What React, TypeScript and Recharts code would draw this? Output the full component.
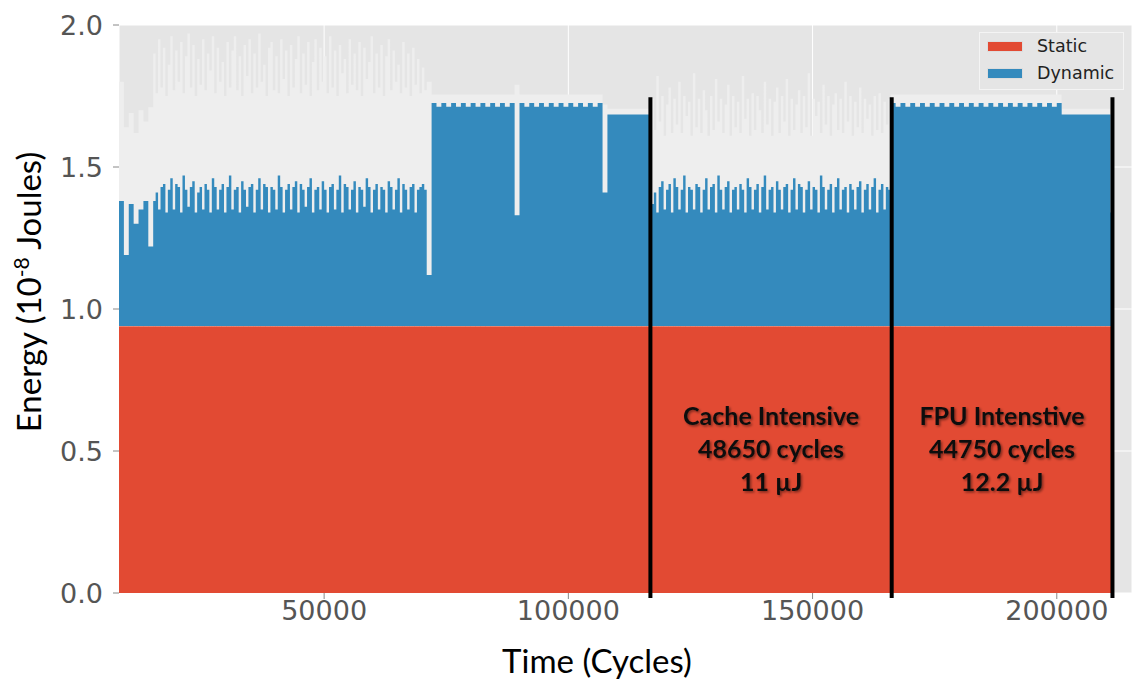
import React from 'react';
import { ComposedChart, Area, XAxis, YAxis, CartesianGrid, ReferenceLine, ReferenceArea, Legend } from 'recharts';

// energy per sample, in 10^-8 J
const STATIC_ENERGY = 0.94;
const RUN_END = 211500;

const xTicks = [50000, 100000, 150000, 200000];
const yTicks = [0, 0.5, 1.0, 1.5, 2.0];
const phaseBounds = [116800, 166200, 211400];

const phases = [
    { name: 'Cache Intensive', cycles: '48650 cycles', energy: '11 µJ' },
    { name: 'FPU Intenstive', cycles: '44750 cycles', energy: '12.2 µJ' },
];

// total (static + dynamic) per sample
const warmupTotal = [1.38, 1.19, 1.37, 1.30, 1.35, 1.38, 1.22];
const phaseATotal = [
    1.38, 1.41, 1.35, 1.43, 1.44, 1.34, 1.42, 1.46, 1.35, 1.44, 1.43, 1.34,
    1.47, 1.42, 1.36, 1.43, 1.45, 1.34, 1.41, 1.43, 1.35, 1.44, 1.42, 1.34,
    1.46, 1.43, 1.35, 1.42, 1.44, 1.34, 1.43, 1.47, 1.35, 1.42, 1.43, 1.34,
    1.45, 1.42, 1.36, 1.43, 1.44, 1.34, 1.42, 1.46, 1.35, 1.44, 1.43, 1.34,
    1.43, 1.42, 1.35, 1.47, 1.43, 1.34, 1.42, 1.44, 1.35, 1.43, 1.45, 1.34,
    1.44, 1.42, 1.36, 1.43, 1.46, 1.34, 1.42, 1.43, 1.35, 1.45, 1.42, 1.34,
    1.43, 1.44, 1.35, 1.42, 1.47, 1.34, 1.44, 1.43, 1.35, 1.42, 1.45, 1.34,
    1.43, 1.42, 1.36, 1.46, 1.43, 1.34, 1.42, 1.44, 1.35, 1.43, 1.42, 1.34,
    1.45, 1.43, 1.35, 1.42, 1.46, 1.34, 1.44, 1.42, 1.35, 1.43, 1.44, 1.34,
    1.42, 1.43, 1.44, 1.42,
];
const dipATotal = [1.12];
const plateauBTotal = [
    1.725, 1.712, 1.725, 1.712, 1.725, 1.712, 1.725, 1.712, 1.725, 1.712, 1.725, 1.712,
    1.725, 1.712, 1.725, 1.712, 1.725, 1.33, 1.725, 1.712, 1.725, 1.712, 1.725, 1.712,
    1.725, 1.712, 1.725, 1.712, 1.725, 1.712, 1.725, 1.712, 1.725, 1.712, 1.725,
];
const dipBTotal = [1.41];
const plateauCTotal = [1.685, 1.685, 1.685, 1.685, 1.685, 1.685, 1.685, 1.685, 1.685];
const cacheTotal = [
    1.37, 1.41, 1.34, 1.43, 1.45, 1.35, 1.42, 1.44, 1.34, 1.46, 1.43, 1.35,
    1.42, 1.47, 1.34, 1.43, 1.42, 1.35, 1.44, 1.43, 1.34, 1.42, 1.46, 1.35,
    1.43, 1.44, 1.34, 1.47, 1.42, 1.35, 1.43, 1.45, 1.34, 1.42, 1.43, 1.35,
    1.44, 1.42, 1.34, 1.46, 1.43, 1.35, 1.42, 1.44, 1.34, 1.43, 1.47, 1.35,
    1.42, 1.43, 1.34, 1.45, 1.42, 1.35, 1.43, 1.44, 1.34, 1.42, 1.46, 1.35,
    1.44, 1.43, 1.34, 1.42, 1.45, 1.35, 1.43, 1.42, 1.34, 1.47, 1.43, 1.35,
    1.42, 1.44, 1.34, 1.43, 1.46, 1.35, 1.42, 1.43, 1.34, 1.44, 1.42, 1.35,
    1.43, 1.45, 1.34, 1.42, 1.44, 1.35, 1.43, 1.46,
    1.34, 1.42, 1.44, 1.35, 1.43, 1.42,
];
const fpuTotal = [
    1.725, 1.712, 1.725, 1.712, 1.725, 1.712, 1.725, 1.712, 1.725, 1.712, 1.725, 1.712,
    1.725, 1.712, 1.725, 1.712, 1.725, 1.712, 1.725, 1.712, 1.725, 1.712, 1.725, 1.712,
    1.725, 1.712, 1.725, 1.712, 1.725, 1.712, 1.725, 1.712, 1.725, 1.712, 1.725,
];
const fpuTailTotal = [1.685, 1.685, 1.685, 1.685, 1.685, 1.685, 1.685, 1.685, 1.685, 1.685];
const endTotal = [1.34];

// light envelope behind the bars (sample peaks)
const warmupPeak = [1.80, 1.64, 1.69, 1.62, 1.70, 1.66, 1.71];
const phaseAPeak = [
    1.90, 1.76, 1.95, 1.78, 1.92, 1.75, 1.86, 1.96, 1.77, 1.91, 1.80, 1.94,
    1.76, 1.89, 1.97, 1.78, 1.93, 1.75, 1.88, 1.79, 1.95, 1.77, 1.90, 1.84,
    1.96, 1.76, 1.92, 1.80, 1.87, 1.75, 1.94, 1.78, 1.91, 1.96, 1.77, 1.89,
    1.75, 1.93, 1.82, 1.95, 1.76, 1.90, 1.78, 1.97, 1.80, 1.86, 1.75, 1.92,
    1.94, 1.77, 1.89, 1.76, 1.95, 1.81, 1.91, 1.75, 1.93, 1.78, 1.88, 1.96,
    1.76, 1.90, 1.79, 1.94, 1.75, 1.87, 1.95, 1.77, 1.92, 1.80, 1.89, 1.76,
    1.96, 1.78, 1.91, 1.75, 1.93, 1.83, 1.88, 1.76, 1.95, 1.79, 1.90, 1.77,
    1.94, 1.75, 1.92, 1.81, 1.87, 1.96, 1.76, 1.90, 1.78, 1.93, 1.75, 1.89,
    1.95, 1.77, 1.91, 1.80, 1.86, 1.76, 1.94, 1.78, 1.90, 1.75, 1.92, 1.79,
    1.88, 1.76, 1.85, 1.77,
];
const dipAPeak = [1.80];
const plateauBPeak = [
    1.755, 1.755, 1.755, 1.755, 1.755, 1.755, 1.755, 1.755, 1.755, 1.755, 1.755, 1.755,
    1.755, 1.755, 1.755, 1.755, 1.755, 1.79, 1.755, 1.755, 1.755, 1.755, 1.755, 1.755,
    1.755, 1.755, 1.755, 1.755, 1.755, 1.755, 1.755, 1.755, 1.755, 1.755, 1.755,
];
const dipBPeak = [1.72];
const plateauCPeak = [1.705, 1.705, 1.705, 1.705, 1.705, 1.705, 1.705, 1.705, 1.705];
const cachePeak = [
    1.74, 1.63, 1.82, 1.66, 1.75, 1.61, 1.72, 1.78, 1.62, 1.74, 1.65, 1.80,
    1.62, 1.75, 1.68, 1.73, 1.61, 1.83, 1.64, 1.74, 1.62, 1.77, 1.70, 1.61,
    1.75, 1.63, 1.81, 1.66, 1.74, 1.62, 1.72, 1.79, 1.61, 1.75, 1.64, 1.73,
    1.62, 1.82, 1.67, 1.74, 1.61, 1.76, 1.63, 1.75, 1.70, 1.62, 1.80, 1.65,
    1.74, 1.61, 1.73, 1.78, 1.62, 1.75, 1.66, 1.81, 1.61, 1.74, 1.63, 1.72,
    1.77, 1.62, 1.75, 1.64, 1.83, 1.61, 1.74, 1.68, 1.73, 1.62, 1.79, 1.65,
    1.75, 1.61, 1.72, 1.76, 1.63, 1.74, 1.62, 1.80, 1.66, 1.75, 1.61, 1.73,
    1.64, 1.78, 1.62, 1.74, 1.67, 1.72, 1.61, 1.75,
    1.63, 1.76, 1.62, 1.73, 1.65, 1.74,
];
const fpuPeak = [
    1.755, 1.755, 1.755, 1.755, 1.755, 1.755, 1.755, 1.755, 1.755, 1.755, 1.755, 1.755,
    1.755, 1.755, 1.755, 1.755, 1.755, 1.755, 1.755, 1.755, 1.755, 1.755, 1.755, 1.755,
    1.755, 1.755, 1.755, 1.755, 1.755, 1.755, 1.755, 1.755, 1.755, 1.755, 1.755,
];
const fpuTailPeak = [1.705, 1.705, 1.705, 1.705, 1.705, 1.705, 1.705, 1.705, 1.705, 1.705];
const endPeak = [1.70];

// each stretch of the trace: first sample cycle and sampling interval
const segments = [
    { start: 8000, step: 1000, total: warmupTotal, peak: warmupPeak },
    { start: 15000, step: 500, total: phaseATotal, peak: phaseAPeak },
    { start: 71000, step: 1000, total: dipATotal, peak: dipAPeak },
    { start: 72000, step: 1000, total: plateauBTotal, peak: plateauBPeak },
    { start: 107000, step: 1000, total: dipBTotal, peak: dipBPeak },
    { start: 108000, step: 1000, total: plateauCTotal, peak: plateauCPeak },
    { start: 117000, step: 500, total: cacheTotal, peak: cachePeak },
    { start: 166000, step: 1000, total: fpuTotal, peak: fpuPeak },
    { start: 201000, step: 1000, total: fpuTailTotal, peak: fpuTailPeak },
    { start: 211000, step: 1000, total: endTotal, peak: endPeak },
];

const data = segments.flatMap((s) =>
    s.total.map((t, i) => ({
        cycle: s.start + i * s.step,
        static: STATIC_ENERGY,
        dynamic: t - STATIC_ENERGY,
        peak: s.peak[i],
    }))
);
data.push({ ...data[data.length - 1], cycle: RUN_END });

const RED = '#E24A33';
const BLUE = '#348ABD';
const BG = '#E5E5E5';
const TICK_FONT = { fill: '#555555', fontSize: 27, fontFamily: 'DejaVu Sans' };

const XTitle = (props: any) => {
    const { viewBox } = props;
    return (
        <text x={viewBox.x + 478} y={viewBox.y + 80} textAnchor="middle" fontFamily="Lato" fontSize={33} fill="#000">
            Time (Cycles)
        </text>
    );
};

const YTitle = () => (
    <text transform="translate(41, 292) rotate(-90)" textAnchor="middle" fontFamily="Lato" fontSize={33} fill="#000">
        Energy (10<tspan dy={-12} fontSize={21}>-8</tspan><tspan dy={12}> Joules)</tspan>
    </text>
);

const PhaseLabel = (props: any) => {
    const { viewBox, phase } = props;
    const cx = viewBox.x + viewBox.width / 2;
    const cy = viewBox.y + viewBox.height / 2;
    return (
        <g filter="url(#txtShadow)" fontFamily="Lato" fontWeight={700} fontSize={25} fill="#111" textAnchor="middle">
            <defs>
                <filter id="txtShadow" x="-20%" y="-20%" width="140%" height="140%">
                    <feDropShadow dx="1.5" dy="1.5" stdDeviation="1.2" floodColor="#000" floodOpacity="0.45" />
                </filter>
            </defs>
            <text x={cx} y={cy - 33} dominantBaseline="central">{phase.name}</text>
            <text x={cx} y={cy} dominantBaseline="central">{phase.cycles}</text>
            <text x={cx} y={cy + 33} dominantBaseline="central">{phase.energy}</text>
        </g>
    );
};

const EnergyLegend = () => (
    <div style={{ position: 'relative', width: 145, height: 58, background: BG, border: '1px solid #f4f4f4', boxSizing: 'border-box', fontFamily: 'DejaVu Sans', fontSize: 17.5, color: '#222' }}>
        {[{ label: 'Static', color: RED, top: 8 }, { label: 'Dynamic', color: BLUE, top: 35 }].map((item) => (
            <div key={item.label}>
                <div style={{ position: 'absolute', left: 7, top: item.top, width: 36, height: 11, background: item.color, border: '1px solid #ddd', boxSizing: 'border-box' }} />
                <div style={{ position: 'absolute', left: 57, top: item.top - 6, lineHeight: '22px' }}>{item.label}</div>
            </div>
        ))}
    </div>
);

export default function App() {
    return (
        <div style={{ position: 'absolute', left: 0, top: 0, width: 1138, height: 682, background: '#fff' }}>
            <ComposedChart width={1138} height={682} data={data} margin={{ top: 25, right: 0, bottom: 0, left: 0 }}>
                <CartesianGrid fill={BG} stroke="#ffffff" strokeWidth={1} />
                <XAxis
                    dataKey="cycle"
                    type="number"
                    domain={[8000, 215400]}
                    ticks={xTicks}
                    allowDataOverflow
                    axisLine={false}
                    tickLine={{ stroke: '#888' }}
                    tickSize={6}
                    tickMargin={2}
                    tick={TICK_FONT}
                    height={89}
                    label={<XTitle />}
                />
                <XAxis
                    xAxisId="top"
                    orientation="top"
                    dataKey="cycle"
                    type="number"
                    domain={[8000, 215400]}
                    ticks={xTicks}
                    allowDataOverflow
                    axisLine={false}
                    tickLine={{ stroke: '#888' }}
                    tickSize={5}
                    tick={false}
                    height={0}
                />
                <YAxis
                    type="number"
                    domain={[0, 2]}
                    ticks={yTicks}
                    allowDataOverflow
                    axisLine={false}
                    tickLine={{ stroke: '#888' }}
                    tickSize={6}
                    tickMargin={10}
                    tick={TICK_FONT}
                    tickFormatter={(v: number) => v.toFixed(1)}
                    width={119}
                    label={<YTitle />}
                />
                <YAxis
                    yAxisId="right"
                    orientation="right"
                    type="number"
                    domain={[0, 2]}
                    ticks={yTicks}
                    axisLine={false}
                    tickLine={{ stroke: '#888' }}
                    tickSize={5}
                    tick={false}
                    width={6}
                />
                <Area type="stepAfter" dataKey="peak" fill="#EEEEEE" fillOpacity={1} stroke="none" isAnimationActive={false} legendType="none" />
                <Area type="stepAfter" dataKey="static" name="Static" stackId="e" fill={RED} fillOpacity={1} stroke="#f2b6a8" strokeWidth={1} isAnimationActive={false} />
                <Area type="stepAfter" dataKey="dynamic" name="Dynamic" stackId="e" fill={BLUE} fillOpacity={1} stroke="none" isAnimationActive={false} />
                {phases.map((p, i) => (
                    <ReferenceArea
                        key={p.name}
                        x1={phaseBounds[i]}
                        x2={phaseBounds[i + 1]}
                        y1={0.39}
                        y2={0.63}
                        fillOpacity={0}
                        strokeOpacity={0}
                        label={<PhaseLabel phase={p} />}
                    />
                ))}
                {phaseBounds.map((b) => (
                    <ReferenceLine
                        key={b}
                        segment={[{ x: b, y: -0.018 }, { x: b, y: 1.746 }]}
                        stroke="#000"
                        strokeWidth={4}
                        ifOverflow="visible"
                    />
                ))}
                <Legend
                    layout="vertical"
                    align="center"
                    verticalAlign="middle"
                    content={<EnergyLegend />}
                    wrapperStyle={{ top: 32, left: 979, width: 145, height: 58 }}
                />
            </ComposedChart>
        </div>
    );
}
